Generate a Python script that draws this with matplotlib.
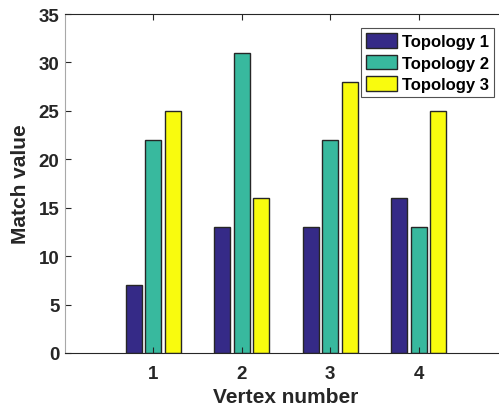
import matplotlib
matplotlib.use("Agg")
import matplotlib.pyplot as plt
import numpy as np

categories = [1, 2, 3, 4]
series_names = ["Topology 1", "Topology 2", "Topology 3"]
topology1 = [7, 13, 13, 16]
topology2 = [22, 31, 22, 13]
topology3 = [25, 16, 28, 25]
yticks = [0, 5, 10, 15, 20, 25, 30, 35]

colors = ["#352a87", "#38b99e", "#f9fb0e"]

plt.rcParams['font.family'] = ['Liberation Sans', 'DejaVu Sans']
plt.rcParams['font.weight'] = 'bold'

fig = plt.figure(figsize=(4.99, 4.10), dpi=100)
ax = fig.add_axes([65/499, 1-354/410, (507-65)/499, (354-15)/410])

x = np.array(categories, dtype=float)
offsets = [-0.222, 0.0, 0.222]
width = 0.18
for vals, off, c, name in zip([topology1, topology2, topology3], offsets, colors, series_names):
    ax.bar(x + off, vals, width=width, color=c, edgecolor="#262626", linewidth=1.0, label=name)

ax.set_xlim(0, 5)
ax.set_ylim(0, 35)
ax.set_xticks(categories)
ax.set_yticks(yticks)
ax.tick_params(axis='both', direction='in', labelsize=13.5, length=4, width=0.8, colors='#262626', top=True)
ax.tick_params(axis='x', pad=9)
ax.tick_params(axis='y', pad=4)
for lab in ax.get_xticklabels() + ax.get_yticklabels():
    lab.set_fontweight('bold')
    lab.set_color('#262626')
ax.spines['left'].set_color('#a8a8a8')
ax.spines['bottom'].set_color('#262626')
ax.spines['top'].set_color('#262626')
ax.set_xlabel("Vertex number", fontsize=15, fontweight='bold', color='#262626', labelpad=3)
ax.set_ylabel("Match value", fontsize=15, fontweight='bold', color='#262626', labelpad=6)

leg = ax.legend(loc='upper left', bbox_to_anchor=(361/499, 1-29/410), bbox_transform=fig.transFigure,
                fontsize=12, frameon=True, fancybox=False, edgecolor='#262626',
                handlelength=1.85, handleheight=1.0, handletextpad=0.3, labelspacing=0.32,
                borderpad=0.3, borderaxespad=0)
leg.get_frame().set_linewidth(0.8)
for t in leg.get_texts():
    t.set_fontweight('bold')

fig.savefig("out.png", dpi=100)
